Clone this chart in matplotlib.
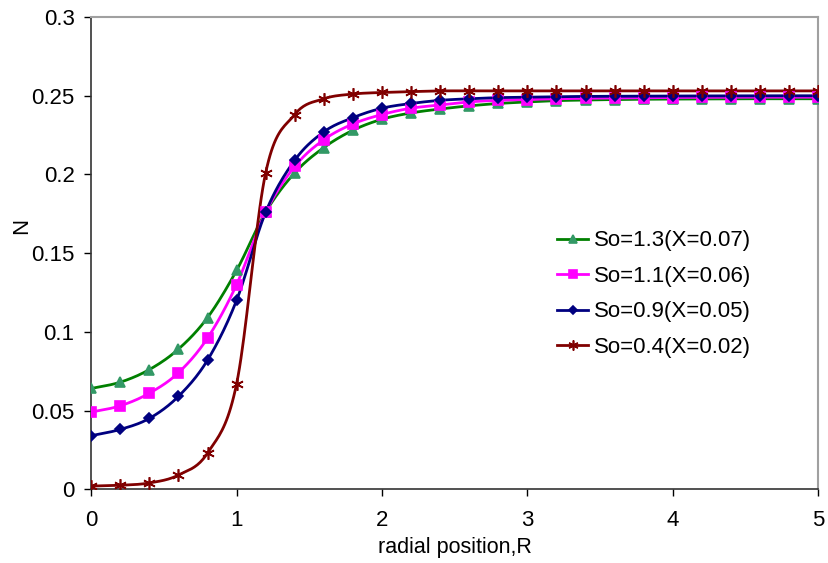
import numpy as np
import matplotlib
matplotlib.use("Agg")
import matplotlib.pyplot as plt

plt.rcParams['font.family'] = ['Liberation Sans', 'DejaVu Sans']

# Radial positions
R = [0.0, 0.2, 0.4, 0.6, 0.8, 1.0, 1.2, 1.4, 1.6, 1.8, 2.0, 2.2, 2.4, 2.6,
     2.8, 3.0, 3.2, 3.4, 3.6, 3.8, 4.0, 4.2, 4.4, 4.6, 4.8, 5.0]

# N profiles for each case
n_so13 = [0.064, 0.068, 0.076, 0.089, 0.109, 0.139, 0.176, 0.201, 0.217, 0.228,
          0.235, 0.239, 0.2415, 0.2435, 0.245, 0.246, 0.2468, 0.2472, 0.2475, 0.2477,
          0.2478, 0.2479, 0.248, 0.248, 0.248, 0.248]
n_so11 = [0.049, 0.053, 0.061, 0.074, 0.096, 0.130, 0.176, 0.205, 0.222, 0.232,
          0.238, 0.242, 0.244, 0.246, 0.247, 0.2475, 0.248, 0.2483, 0.2485, 0.2487,
          0.2488, 0.2489, 0.249, 0.249, 0.249, 0.249]
n_so09 = [0.034, 0.038, 0.045, 0.059, 0.082, 0.120, 0.176, 0.209, 0.227, 0.236,
          0.242, 0.245, 0.247, 0.248, 0.2487, 0.249, 0.2493, 0.2495, 0.2496, 0.2497,
          0.2498, 0.2498, 0.2499, 0.2499, 0.2499, 0.2499]
n_so04 = [0.002, 0.0025, 0.004, 0.009, 0.023, 0.067, 0.201, 0.238, 0.248, 0.251,
          0.252, 0.2525, 0.253, 0.253, 0.253, 0.253, 0.253, 0.253, 0.253, 0.253,
          0.253, 0.253, 0.253, 0.253, 0.253, 0.253]

labels = ['So=1.3(X=0.07)', 'So=1.1(X=0.06)', 'So=0.9(X=0.05)', 'So=0.4(X=0.02)']

x_ticks = [0, 1, 2, 3, 4, 5]
y_ticks = [0, 0.05, 0.1, 0.15, 0.2, 0.25, 0.3]
y_tick_labels = ['0', '0.05', '0.1', '0.15', '0.2', '0.25', '0.3']


def smooth(x, y, n=20):
    """Catmull-Rom curve through the given points."""
    x = np.asarray(x, float)
    y = np.asarray(y, float)
    px = np.concatenate([[2 * x[0] - x[1]], x, [2 * x[-1] - x[-2]]])
    py = np.concatenate([[2 * y[0] - y[1]], y, [2 * y[-1] - y[-2]]])
    t = np.linspace(0, 1, n, endpoint=False)
    xs, ys = [], []
    for i in range(1, len(px) - 2):
        for p, out in ((px, xs), (py, ys)):
            p0, p1, p2, p3 = p[i - 1], p[i], p[i + 1], p[i + 2]
            out.append(0.5 * ((2 * p1) + (-p0 + p2) * t
                              + (2 * p0 - 5 * p1 + 4 * p2 - p3) * t ** 2
                              + (-p0 + 3 * p1 - 3 * p2 + p3) * t ** 3))
    return np.concatenate(xs + [[x[-1]]]), np.concatenate(ys + [[y[-1]]])


fig = plt.figure(figsize=(8.29, 5.63), dpi=100)
ax = fig.add_axes([0.110, 0.131, 0.877, 0.839])

# values, line colour, marker, marker colour, marker size
series = [
    (n_so13, '#008000', '^', '#339966', 7.5),
    (n_so11, '#FF00FF', 's', '#FF00FF', 7),
    (n_so09, '#000080', 'D', '#000080', 5.5),
    (n_so04, '#800000', (6, 2, 0), '#800000', 9),
]

handles = []
for (vals, lc, mk, mc, ms), lab in zip(series, labels):
    sx, sy = smooth(R, vals)
    ax.plot(sx, sy, color=lc, lw=2, zorder=2)
    ax.plot(R, vals, ls='none', marker=mk, ms=ms, mfc=mc, mec=mc,
            mew=1.2, zorder=3)
    h, = ax.plot([], [], color=lc, lw=2, marker=mk, ms=ms * 0.8,
                 mfc=mc, mec=mc, mew=1.2)
    handles.append(h)

ax.set_xlim(0, 5)
ax.set_ylim(0, 0.3)
ax.set_xticks(x_ticks)
ax.set_yticks(y_ticks)
ax.set_yticklabels(y_tick_labels)
ax.tick_params(direction='out', length=5, width=1, labelsize=16, color='black')
ax.tick_params(axis='x', pad=10)
ax.tick_params(axis='y', pad=7)

for s in ('top', 'right'):
    ax.spines[s].set_color('#A0A0A0')
    ax.spines[s].set_linewidth(1.5)
for s in ('left', 'bottom'):
    ax.spines[s].set_color('#333333')
    ax.spines[s].set_linewidth(1.2)

ax.set_xlabel('radial position,R', fontsize=15.5)
ax.xaxis.set_label_coords(0.5, -0.102)
ax.set_ylabel('N', fontsize=16, va='center')
ax.yaxis.set_label_coords(-0.095, 0.557)

ax.legend(handles, labels, loc='upper left', bbox_to_anchor=(0.641, 0.548),
          frameon=False, fontsize=16, handlelength=1.4, labelspacing=0.65,
          handletextpad=0.25, borderpad=0, borderaxespad=0)

fig.savefig('out.png', dpi=100)
